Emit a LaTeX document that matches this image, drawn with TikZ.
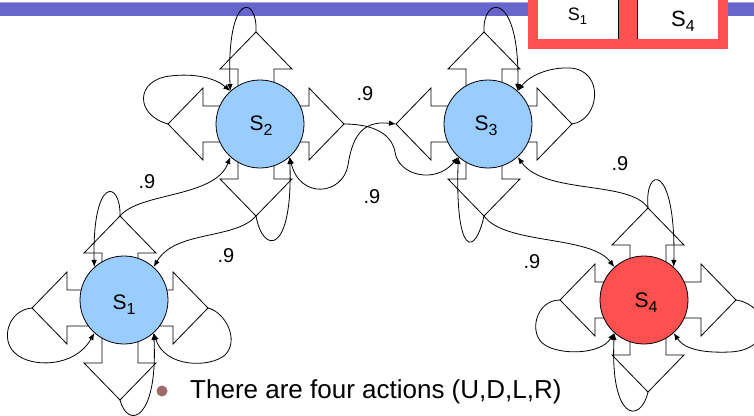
\documentclass[tikz,border=0pt]{standalone}
\usepackage{fontspec}
\setmainfont{Liberation Sans}
\usetikzlibrary{arrows.meta}

\definecolor{barblue}{HTML}{6666CC}
\definecolor{barlight}{HTML}{A3A3E3}
\definecolor{stblue}{HTML}{99CCFF}
\definecolor{stred}{HTML}{FF5050}
\definecolor{dotc}{HTML}{A06A6A}

% state name: size, subscript size, drop of subscript, index
\newcommand\stlabel[4]{{\fontsize{#1}{#1}\selectfont S\raisebox{-#3}{\fontsize{#2}{#2}\selectfont #4}}}

% four block arrows (U, D, L, R) around a point, with their tips named
\newcommand\actioncross[3]{%
  \begin{scope}[shift={(#2,#3)}]
    \draw[blockarrow] (-18,0) -- (-18,-55) -- (-36,-55) -- (0,-92) -- (36,-55) -- (18,-55) -- (18,0);
    \draw[blockarrow] (-18,0) -- (-18,55) -- (-36,55) -- (0,92) -- (36,55) -- (18,55) -- (18,0);
    \draw[blockarrow] (0,-18) -- (-53,-18) -- (-53,-36) -- (-88,0) -- (-53,36) -- (-53,18) -- (0,18);
    \draw[blockarrow] (0,-18) -- (53,-18) -- (53,-36) -- (88,0) -- (53,36) -- (53,18) -- (0,18);
    \coordinate (#1u) at (0,-92);
    \coordinate (#1d) at (0,92);
    \coordinate (#1l) at (-88,0);
    \coordinate (#1r) at (88,0);
  \end{scope}}

\tikzset{
  blockarrow/.style={draw=black, fill=white, line width=0.8pt, line join=miter},
  state/.style={circle, draw=black, line width=0.8pt, minimum size=88pt, inner sep=0pt},
  conn/.style={-{Latex[length=7pt,width=5.5pt]}, line width=0.8pt},
  bothconn/.style={{Latex[length=7pt,width=5.5pt]}-{Latex[length=7pt,width=5.5pt]}, line width=0.8pt},
  prob/.style={inner sep=0pt, font=\fontsize{20pt}{20pt}\selectfont},
}

\begin{document}
\begin{tikzpicture}[x=1pt,y=-1pt]
  \useasboundingbox (0,0) rectangle (754,415);
  \clip (0,0) rectangle (754,415);

  % title bar
  \fill[barlight] (0,1.5) rectangle (754,3.5);
  \fill[barblue] (0,3.3) rectangle (754,16);

  % red table fragment
  \fill[stred] (528,-1) rectangle (728,49);
  \fill[white] (538,-1) rectangle (618,39);
  \fill[white] (637,-1) rectangle (718,39);
  \draw[line width=0.8pt] (618,-1) -- (618,39);
  \draw[line width=0.8pt] (637,-1) -- (637,39);
  \node[inner sep=0pt] (tabs1) at (577.5,16.5) {\stlabel{18pt}{13pt}{4pt}{1}};
  \node[inner sep=0pt] (tabs4) at (683,21.5) {\stlabel{22pt}{16pt}{5pt}{4}};

  % action arrows
  \actioncross{s1}{120}{308}
  \actioncross{s2}{256}{124}
  \actioncross{s3}{484}{124}
  \actioncross{s4}{648}{300}

  % states
  \node[state, fill=stblue] (s1) at (124,300) {};
  \node[state, fill=stblue] (s2) at (260,124) {};
  \node[state, fill=stblue] (s3) at (488,124) {};
  \node[state, fill=stred]  (s4) at (644,300) {};
  \node[inner sep=0pt] (s1name) at (124,305) {\stlabel{21pt}{16pt}{5pt}{1}};
  \node[inner sep=0pt] (s2name) at (261,126) {\stlabel{21pt}{16pt}{5pt}{2}};
  \node[inner sep=0pt] (s3name) at (486,126) {\stlabel{21pt}{16pt}{5pt}{3}};
  \node[inner sep=0pt] (s4name) at (646,303) {\stlabel{21pt}{16pt}{5pt}{4}};

  % transition probabilities
  \node[prob] (p1) at (147,182) {.9};
  \node[prob] (p2) at (226,256) {.9};
  \node[prob] (p3) at (365,94) {.9};
  \node[prob] (p4) at (372,197) {.9};
  \node[prob] (p5) at (620,164) {.9};
  \node[prob] (p6) at (532,262) {.9};

  % S1 transitions
  \draw[conn] (s1u) .. controls (121,180) and (92,175) .. (s1.132);
  \draw[conn] (s1l) .. controls (8,310) and (0,340) .. (15,353) .. controls (30,368) and (75,368) .. (s1.228);
  \draw[conn] (s1r) .. controls (225,312) and (240,340) .. (225,355) .. controls (210,368) and (165,368) .. (s1.312);
  \draw[conn] (s1d) .. controls (128,430) and (158,420) .. (s1.312);
  \draw[conn] (s1u) .. controls (140,192) and (215,198) .. (s2.228);

  % S2 transitions
  \draw[conn] (s2d) .. controls (235,240) and (175,230) .. (s1.48);
  \draw[conn] (s2u) .. controls (258,-5) and (226,-10) .. (s2.132);
  \draw[conn] (s2l) .. controls (135,115) and (135,80) .. (170,76) .. controls (195,73) and (215,78) .. (s2.132);
  \draw[conn] (s2d) .. controls (263,255) and (293,255) .. (s2.312);
  \draw[conn] (s2r) .. controls (375,124) and (392,135) .. (395,152) .. controls (398,175) and (435,185) .. (s3.228);

  % S3 transitions
  \draw[bothconn] (s3l) .. controls (360,120) and (352,140) .. (348,165) .. controls (343,195) and (300,200) .. (s2.312);
  \draw[conn] (s3u) .. controls (482,-5) and (520,-10) .. (s3.48);
  \draw[conn] (s3r) .. controls (600,120) and (605,70) .. (570,68) .. controls (550,67) and (530,75) .. (s3.48);
  \draw[conn] (s3d) .. controls (475,257) and (455,257) .. (s3.228);
  \draw[conn] (s3d) .. controls (505,245) and (590,235) .. (s4.132);

  % S4 transitions
  \draw[conn] (s4u) .. controls (630,180) and (545,195) .. (s3.312);
  \draw[conn] (s4u) .. controls (644,165) and (676,162) .. (s4.48);
  \draw[conn] (s4l) .. controls (535,300) and (528,335) .. (545,345) .. controls (560,355) and (600,355) .. (s4.228);
  \draw[conn] (s4r) .. controls (770,305) and (775,350) .. (730,352) .. controls (705,353) and (685,350) .. (s4.312);
  \draw[conn] (s4d) .. controls (640,425) and (610,420) .. (s4.228);

  % bullet line
  \node[circle, fill=dotc, minimum size=11pt, inner sep=0pt] (dot) at (162,391) {};
  \node[anchor=base west, inner sep=0pt, font=\fontsize{26pt}{26pt}\selectfont] (note) at (190,398) {There are four actions (U,D,L,R)};
\end{tikzpicture}
\end{document}
